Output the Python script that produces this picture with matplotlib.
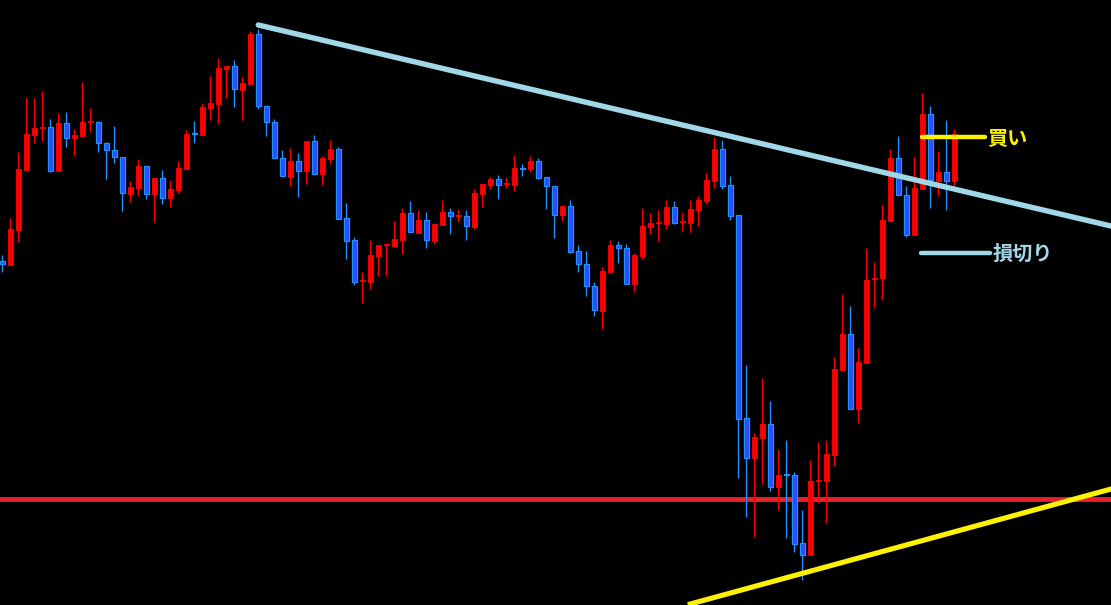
import numpy as np
import matplotlib
matplotlib.use("Agg")
import matplotlib.pyplot as plt

plt.rcParams["font.family"] = ["Noto Sans CJK JP", "DejaVu Sans"]

# OHLC per bar (price levels, arbitrary units)
opens = [343.7, 340.3, 375.3, 435.3, 470.3, 477, 477.7, 434.3, 481.7, 467.3,
         469.3, 482.7, 482.7, 462, 454.7, 447.7, 411.3, 417.3, 438.7, 411.3,
         426.7, 407.3, 415.3, 436.3, 471, 470, 497.3, 501.3, 536.3, 538.7,
         515.3, 521.3, 571, 499, 483, 447, 428.3, 444, 434, 464,
         431.3, 446.3, 456, 387, 365, 323.7, 323.3, 349.3, 360, 359.3,
         365.3, 392, 372.3, 385, 364.3, 380, 393, 389, 388.7, 378,
         411.3, 420.3, 425.7, 420.7, 420.3, 436.3, 435.7, 443.7, 427.7, 418.7,
         389.7, 398.7, 353.7, 340.7, 318.7, 294, 333.3, 359.7, 356.7, 321.3,
         349.3, 378.3, 381.7, 381.3, 398, 382.7, 382, 395, 404, 424,
         456, 420, 390, 186.7, 147.3, 167.3, 181, 118, 130, 130,
         61.7, 50, 124.3, 124, 150, 235, 271, 196.3, 242.3, 326.3,
         327.3, 384.3, 446.7, 409.7, 370.3, 416.3, 491, 424, 433, 424.3]
highs = [350, 387, 453, 508, 507, 514, 486, 492, 493, 476,
         523, 497, 484, 462.7, 479, 447.7, 423.7, 446, 438.7, 427,
         435, 425, 444, 475, 484, 502, 529, 547, 539, 545,
         528, 574, 576, 499, 486, 455, 457, 452, 464, 470,
         449, 465, 458, 402, 368, 333, 365, 360, 362, 384,
         397, 404, 395, 393, 381, 405, 397, 396, 395, 416,
         421.3, 428, 430, 428, 450, 441, 449, 447, 427.7, 418.7,
         399, 405, 360, 354, 322.7, 338, 365, 364, 361, 352,
         397, 392, 395, 405, 404, 393, 405, 409, 432, 468,
         465, 429, 390, 240, 171.7, 227, 204, 156, 165, 133,
         95, 145, 163, 165, 248, 311, 299, 257.3, 357, 343,
         400, 456, 469, 419, 448, 512, 499, 454, 485, 476]
lows = [333.3, 340.3, 363.3, 435.3, 462.3, 464.3, 433.3, 434.3, 458.3, 449.3,
        468.3, 473.3, 453.3, 426.3, 442.3, 394.3, 403.3, 409.3, 406.3, 383.3,
        401.3, 398.3, 412.3, 436.3, 462.3, 470, 485.3, 481.3, 507.3, 498.3,
        485.3, 521.3, 496.3, 469.3, 446.7, 428.7, 419.3, 408.3, 421.3, 431.3,
        420, 441.3, 386.3, 346.3, 320.3, 302, 316.3, 329.3, 329.3, 359.3,
        351.3, 372.7, 372.3, 357.3, 361.3, 380, 371.3, 383.3, 365.3, 376,
        398, 416, 406.3, 417.3, 414.3, 429.3, 433.3, 426.3, 396.3, 367.3,
        384.3, 352.3, 333.3, 309.3, 289.3, 275.7, 333.3, 342.3, 321.3, 313,
        346.3, 371, 364, 376, 381.3, 374, 373, 379, 401.3, 417.3,
        416, 385.3, 127.3, 88.3, 68, 121.3, 114, 95.3, 67.3, 53.3,
        25.3, 50, 101.7, 82.3, 139.3, 235, 196.3, 182.3, 242.3, 297.3,
        305.3, 384.3, 409.7, 368.3, 370.3, 416.3, 397.3, 409.3, 395.3, 419]
closes = [340.7, 375.7, 436, 471, 477, 477, 434.3, 481.7, 467.3, 470,
          482.7, 482.7, 461.7, 454.7, 447.7, 411.7, 418, 439, 411.3, 427,
          407.3, 416, 437, 471, 471, 498, 502, 537, 539, 515.7,
          522, 571, 498.7, 482.7, 446.7, 428.7, 444, 434.3, 464, 431.3,
          447, 456, 386.3, 364.3, 323.3, 323.7, 350, 360, 360, 366,
          392, 372.7, 385, 364.7, 381, 393, 388.7, 389, 378.7, 412,
          421.3, 426, 419.7, 420.7, 437, 436.3, 443.7, 427.3, 418.7, 389.7,
          399, 353.3, 340.7, 318.7, 294.7, 334, 359.7, 356.7, 321.3, 350,
          379, 381.7, 381.7, 398, 382.3, 382.7, 396, 405.3, 425, 456,
          419.3, 389.3, 186.3, 147.3, 168, 181, 118.3, 130, 130, 61.3,
          50.3, 124, 124.3, 151, 236, 271, 196.3, 243, 325, 326.3,
          385, 447, 409.7, 370.3, 417, 491, 425, 433, 424.3, 471]
# bearish bars drawn blue (includes blue dojis)
bearish_doji = [24, 65, 98]

# drawn lines: (bar index, price)
resistance_pts = [(32, 580), (89, 472.5)]
support_pts = [(86, 1), (138.6, 116)]
horizontal_level = 106
buy_level = 468
stop_level = 352

BLUE_EDGE = "#1e90ff"
BLUE_FILL = "#2a4dff"
RED = "#ff0000"


def extend(pts, x_end):
    (x0, y0), (x1, y1) = pts
    slope = (y1 - y0) / (x1 - x0)
    return [x0, x_end], [y0, y0 + slope * (x_end - x0)]


def main():
    o = np.array(opens)
    h = np.array(highs)
    l = np.array(lows)
    c = np.array(closes)
    x = np.arange(len(o))

    bear = c < o
    bear[bearish_doji] = True

    fig = plt.figure(figsize=(11.11, 6.05), dpi=100, facecolor="black")
    ax = fig.add_axes([0, 0, 1, 1])
    ax.set_facecolor("black")
    ax.set_xlim(-0.2875, 138.59)
    ax.set_ylim(0, 605)
    ax.axis("off")

    wick_colors = np.where(bear, BLUE_EDGE, RED)
    ax.vlines(x, l, h, colors=wick_colors, linewidth=1.0, zorder=2)

    body_bottom = np.minimum(o, c)
    body_height = np.maximum(np.abs(c - o), 1.2)
    ax.bar(x[bear], body_height[bear], bottom=body_bottom[bear], width=0.6,
           color=BLUE_FILL, edgecolor=BLUE_EDGE, linewidth=0.9, zorder=3)
    ax.bar(x[~bear], body_height[~bear], bottom=body_bottom[~bear], width=0.6,
           color=RED, edgecolor=RED, linewidth=0.6, zorder=3)

    # trend lines
    xs, ys = extend(resistance_pts, 140)
    ax.plot(xs, ys, color="#a0d8e8", linewidth=3.9, solid_capstyle="round", zorder=4)
    xs, ys = extend(support_pts, 140)
    ax.plot(xs, ys, color="#fff200", linewidth=3.7, zorder=4)
    ax.axhline(horizontal_level, color="#e8202a", linewidth=3.5, zorder=1)

    # entry / stop markers
    ax.plot([115, 122.8], [buy_level, buy_level], color="#fff200", linewidth=3.2,
            solid_capstyle="round", zorder=5)
    ax.text(123.1, buy_level - 1.5, "買い", color="#fff200", fontsize=14.5,
            fontweight="bold", va="center", ha="left", zorder=6)
    ax.plot([114.8, 123.5], [stop_level, stop_level], color="#a0d8e8", linewidth=3.2,
            solid_capstyle="round", zorder=5)
    ax.text(123.8, stop_level, "損切り", color="#a0d8e8", fontsize=14.5,
            fontweight="bold", va="center", ha="left", zorder=6)

    fig.savefig("out.png", dpi=100, facecolor="black")


if __name__ == "__main__":
    main()
